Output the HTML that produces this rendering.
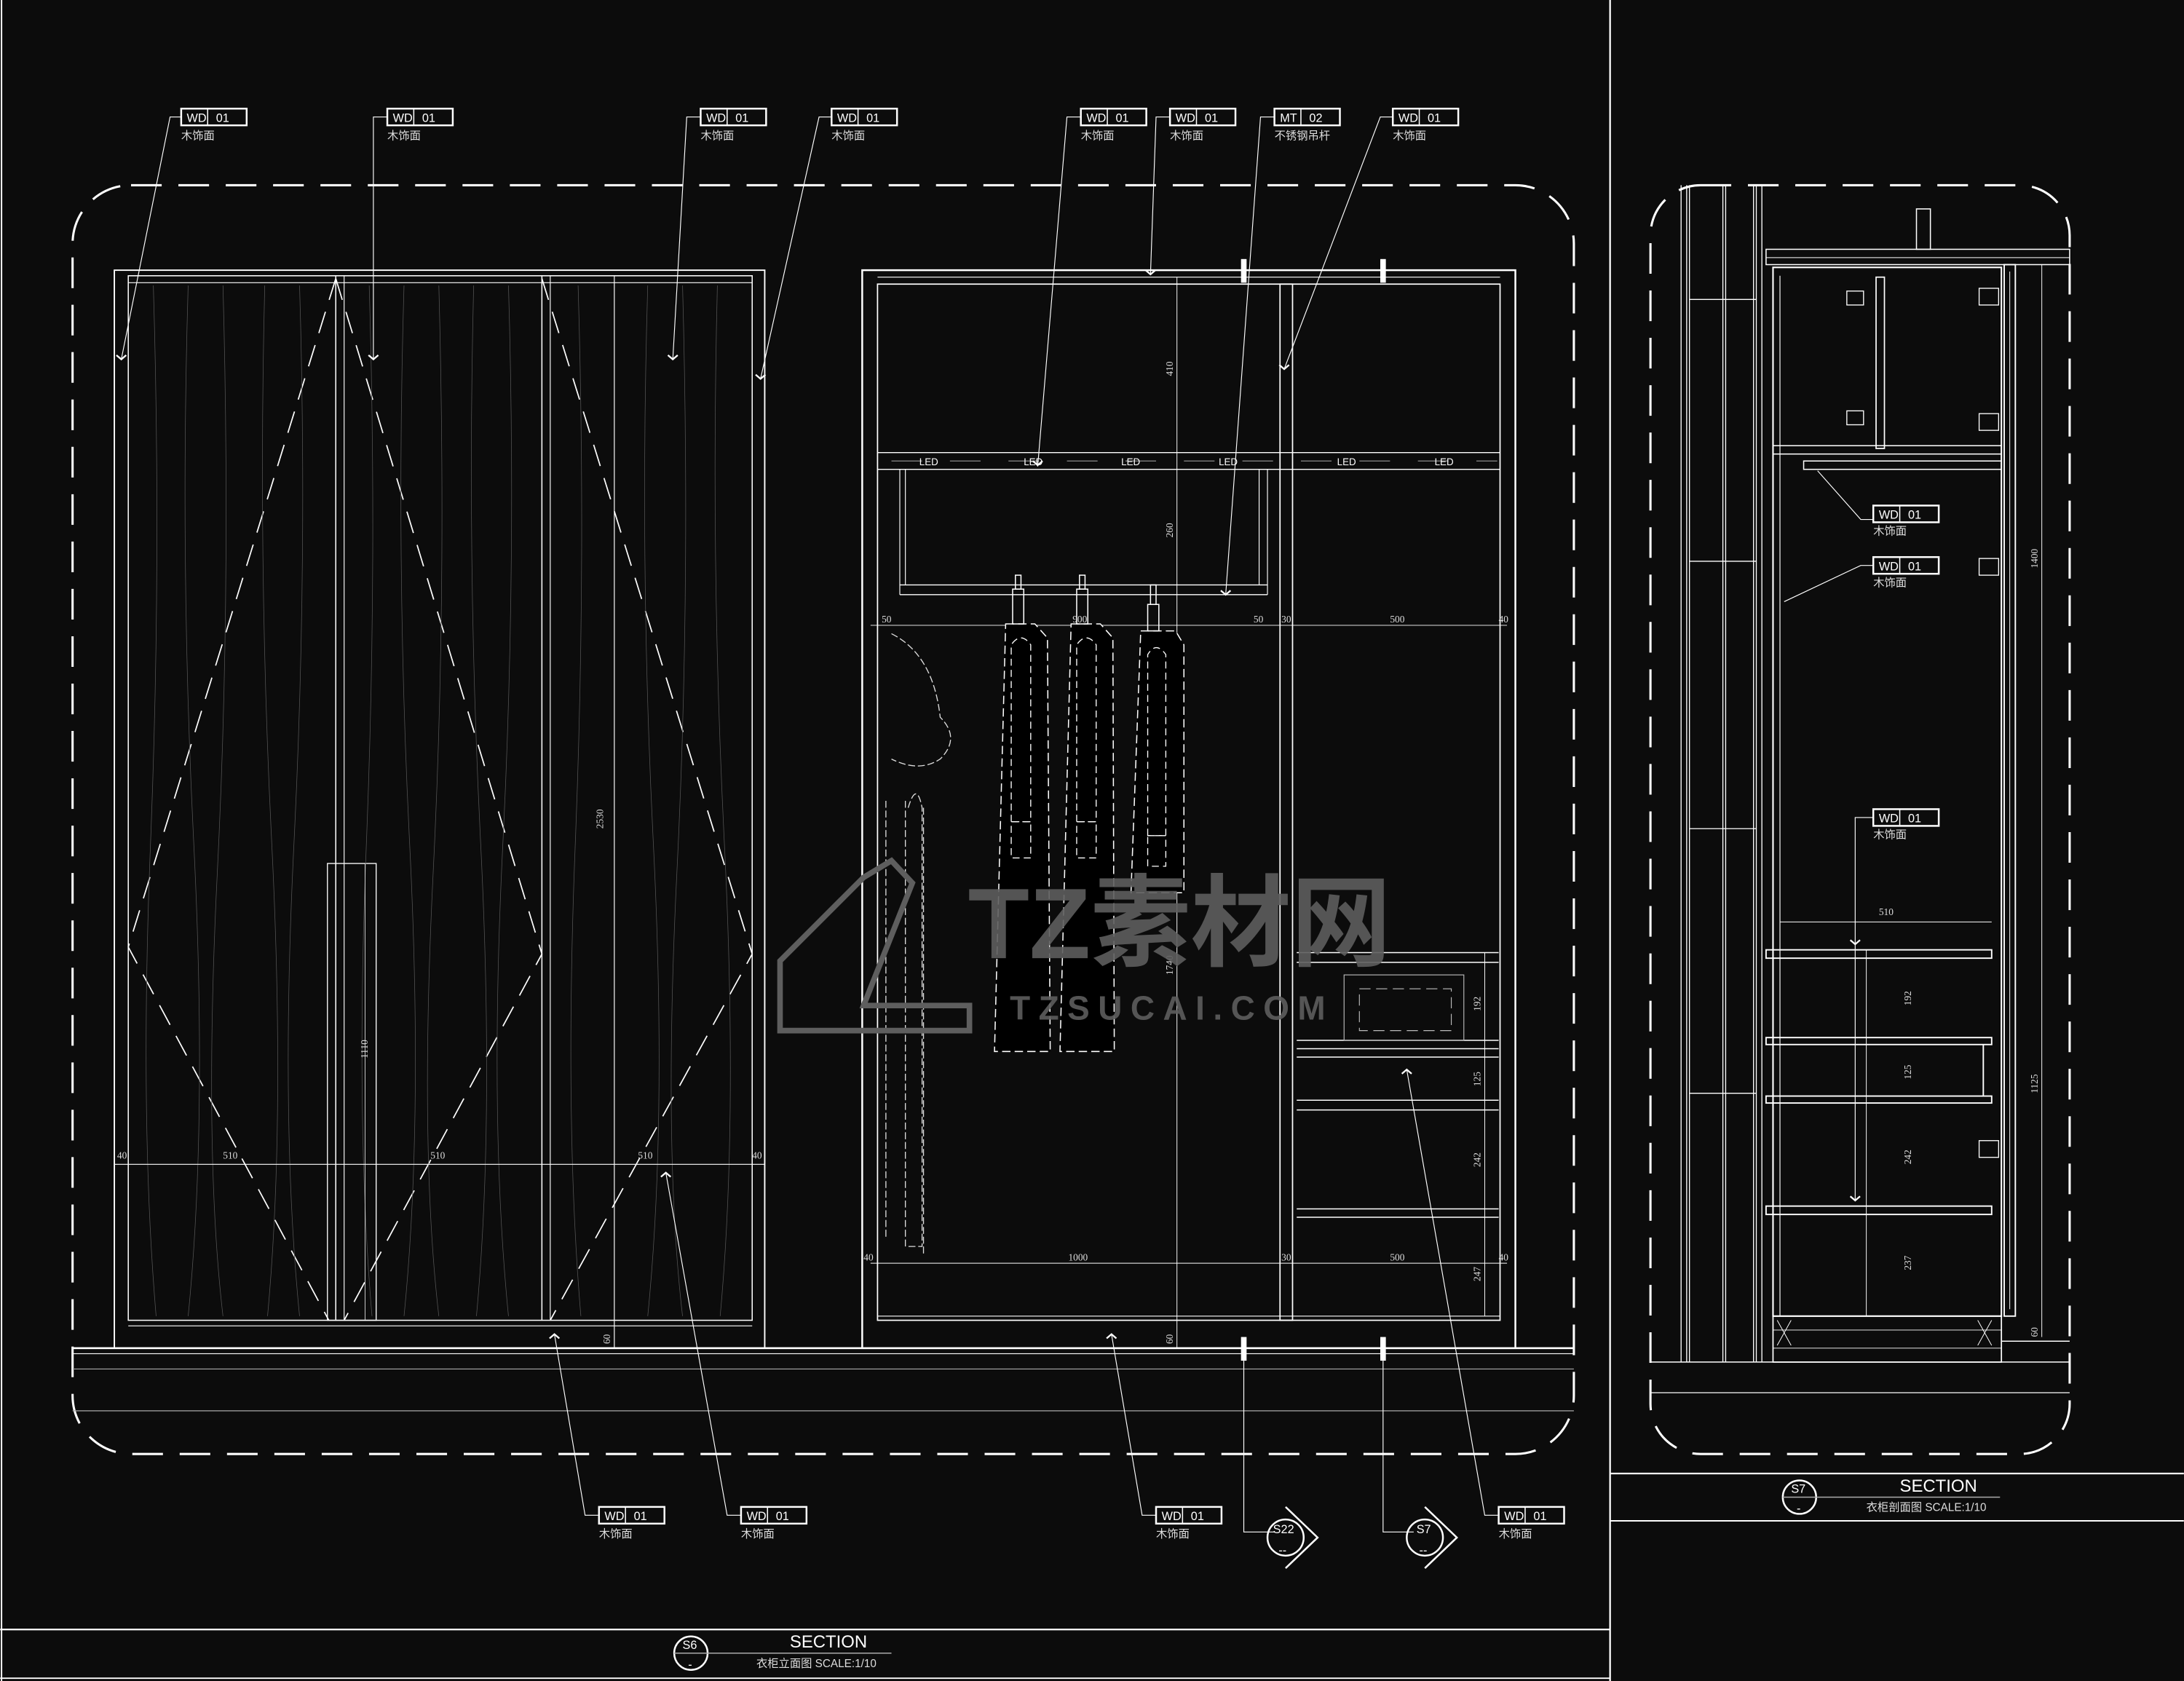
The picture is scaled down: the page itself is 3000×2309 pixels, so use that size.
<!DOCTYPE html>
<html><head><meta charset="utf-8"><style>
html,body{margin:0;padding:0;background:#0c0c0c;}
svg{display:block}
text{font-family:"Liberation Sans","Noto Sans CJK SC",sans-serif;fill:#fff}
.t{font-family:"Liberation Serif","Noto Sans CJK SC",serif;fill:#ddd;font-size:7px}
</style></head><body>
<svg width="3000" height="2309" viewBox="0 0 1568 1207" xmlns="http://www.w3.org/2000/svg">
<defs>
<g id="tag"><rect x="0" y="0" width="47" height="12" fill="none" stroke="#fff" stroke-width="1.3"/><line x1="19" y1="0" x2="19" y2="12" stroke="#fff" stroke-width="0.8"/></g>
<g id="chev"><polyline points="-3.5,-3 0,0 3.5,-3" fill="none" stroke="#fff" stroke-width="1.2"/></g>
</defs>
<rect width="1568" height="1207" fill="#0c0c0c"/>
<g stroke="#fff" fill="none">
<!-- frame -->
<line x1="1" y1="0" x2="1" y2="1207" stroke-width="1"/>
<line x1="1156" y1="0" x2="1156" y2="1207" stroke-width="1.2"/>
<line x1="0" y1="1170" x2="1156" y2="1170" stroke-width="1.2"/>
<line x1="0" y1="1205" x2="1156" y2="1205" stroke-width="1"/>
<line x1="1156" y1="1058" x2="1568" y2="1058" stroke-width="1.2"/>
<line x1="1156" y1="1092" x2="1568" y2="1092" stroke-width="1"/>
<!-- dashed boundaries -->
<rect x="52" y="133" width="1078" height="911" rx="42" stroke-width="1.6" stroke-dasharray="22,12"/>
<rect x="1185" y="133" width="301" height="911" rx="36" stroke-width="1.6" stroke-dasharray="22,12"/>
<!-- floor -->
<line x1="52" y1="968" x2="1130" y2="968" stroke-width="1.4"/>
<line x1="52" y1="972" x2="1130" y2="972" stroke-width="0.6"/>
<line x1="52" y1="983" x2="1130" y2="983" stroke-width="0.6" stroke="#aaa"/>
<line x1="52" y1="1013" x2="1130" y2="1013" stroke-width="0.6" stroke="#aaa"/>

<!-- LEFT WARDROBE -->
<rect x="82" y="194" width="467" height="774" stroke-width="1"/>
<rect x="92" y="198" width="448" height="750" stroke-width="0.8"/>
<line x1="92" y1="203" x2="540" y2="203" stroke-width="0.6"/>
<line x1="92" y1="952" x2="540" y2="952" stroke-width="0.6"/>
<line x1="241" y1="198" x2="241" y2="948" stroke-width="0.8"/>
<line x1="247" y1="198" x2="247" y2="948" stroke-width="0.6"/>
<line x1="389" y1="198" x2="389" y2="948" stroke-width="0.8"/>
<line x1="395" y1="198" x2="395" y2="948" stroke-width="0.6"/>
<line x1="441" y1="198" x2="441" y2="968" stroke-width="0.5"/>
<rect x="235" y="620" width="35" height="328" stroke-width="0.7"/>
<g stroke-width="0.9" stroke-dasharray="16,9">
<polyline points="241,200 92,680 236,948"/>
<polyline points="241,200 389,685 247,948"/>
<polyline points="389,200 540,685 395,948"/>
</g>
<g stroke="#555" stroke-width="0.4">
<path d="M110,205 q6,200 -2,400 t4,340"/><path d="M135,205 q-6,200 4,400 t-4,340"/><path d="M160,205 q6,220 -4,420 t4,320"/><path d="M190,205 q-5,200 5,400 t-3,340"/><path d="M215,205 q6,200 -4,400 t4,340"/>
<path d="M265,205 q6,200 -2,400 t4,340"/><path d="M290,205 q-6,200 4,400 t-4,340"/><path d="M315,205 q6,220 -4,420 t4,320"/><path d="M340,205 q-5,200 5,400 t-3,340"/><path d="M365,205 q6,200 -4,400 t4,340"/>
<path d="M415,205 q6,200 -2,400 t4,340"/><path d="M465,205 q-6,200 4,400 t-4,340"/><path d="M490,205 q6,220 -4,420 t4,320"/><path d="M515,205 q-5,200 5,400 t-3,340"/>
</g>
<line x1="82" y1="836" x2="549" y2="836" stroke-width="0.6"/>
<line x1="441" y1="198" x2="441" y2="968" stroke-width="0.5"/>
<line x1="262" y1="620" x2="262" y2="948" stroke-width="0.4"/>

<!-- MIDDLE WARDROBE -->
<rect x="619" y="194" width="469" height="774" stroke-width="1.3"/>
<rect x="630" y="204" width="447" height="744" stroke-width="0.9"/>
<line x1="630" y1="199" x2="1077" y2="199" stroke-width="0.6"/>
<rect x="919" y="204" width="9" height="744" stroke-width="0.9"/>
<line x1="630" y1="325" x2="1077" y2="325" stroke-width="0.7"/>
<line x1="630" y1="337" x2="1077" y2="337" stroke-width="0.7"/>
<line x1="646" y1="337" x2="646" y2="427" stroke-width="0.6"/>
<line x1="650" y1="337" x2="650" y2="420" stroke-width="0.6"/>
<line x1="904" y1="337" x2="904" y2="420" stroke-width="0.6"/>
<line x1="910" y1="337" x2="910" y2="427" stroke-width="0.6"/>
<line x1="646" y1="420" x2="910" y2="420" stroke-width="0.7"/>
<line x1="646" y1="427" x2="910" y2="427" stroke-width="0.7"/>
<line x1="625" y1="449" x2="1082" y2="449" stroke-width="0.5"/>
<line x1="625" y1="907" x2="1082" y2="907" stroke-width="0.5"/>
<line x1="845" y1="199" x2="845" y2="968" stroke-width="0.5"/>
<line x1="630" y1="945" x2="1077" y2="945" stroke-width="0.6"/>
<!-- drawers -->
<g stroke-width="0.8">
<line x1="931" y1="684" x2="1076" y2="684"/><line x1="931" y1="691" x2="1076" y2="691"/>
<line x1="931" y1="747" x2="1076" y2="747"/><line x1="931" y1="753" x2="1076" y2="753"/><line x1="931" y1="759" x2="1076" y2="759"/>
<line x1="931" y1="790" x2="1076" y2="790"/><line x1="931" y1="797" x2="1076" y2="797"/>
<line x1="931" y1="868" x2="1076" y2="868"/><line x1="931" y1="874" x2="1076" y2="874"/>
<line x1="1066" y1="684" x2="1066" y2="945" stroke-width="0.5"/>
</g>
<rect x="965" y="700" width="86" height="47" stroke-width="0.6" stroke="#bbb"/>
<rect x="976" y="710" width="66" height="30" stroke-width="0.6" stroke="#bbb" stroke-dasharray="8,4"/>
<!-- LED dashes -->
<line x1="640" y1="331" x2="1075" y2="331" stroke="#999" stroke-width="0.6" stroke-dasharray="22,20"/>
<!-- floor markers -->
<rect x="891" y="186" width="4" height="17" fill="#fff" stroke="none"/>
<rect x="991" y="186" width="4" height="17" fill="#fff" stroke="none"/>
<rect x="891" y="960" width="4" height="17" fill="#fff" stroke="none"/>
<rect x="991" y="960" width="4" height="17" fill="#fff" stroke="none"/>
<!-- left accessory -->
<g stroke-width="0.7" stroke="#ddd" stroke-dasharray="5,2">
<path d="M640,455 q30,15 35,60 q15,15 0,30 q-15,10 -35,0"/>
<line x1="636" y1="575" x2="636" y2="890"/><line x1="650" y1="575" x2="650" y2="895"/>
<path d="M652,580 q6,-20 10,0 v315 h-10"/>
<line x1="663" y1="580" x2="663" y2="900"/>
</g>
<!-- garments -->
<g stroke-width="0.8" stroke-dasharray="6,3" fill="#000">
<path d="M722,448 H743 L752,458 L754,755 L714,755 Z"/>
<path d="M769,448 H790 L799,458 L800,755 L761,755 Z"/>
<path d="M819,453 H844 L850,463 L850,641 L812,641 Z"/>
</g>
<g stroke-width="0.7" stroke-dasharray="5,3">
<path d="M726,590 V463 q7,-10 14,0 V590 Z"/><rect x="726" y="590" width="14" height="26"/>
<path d="M773,590 V463 q7,-10 14,0 V590 Z"/><rect x="773" y="590" width="14" height="26"/>
<path d="M824,600 V470 q6,-10 13,0 V600 Z"/><rect x="824" y="600" width="13" height="22"/>
</g>
<g stroke-width="0.8"><rect x="729" y="413" width="4" height="10"/><rect x="727" y="423" width="8" height="25"/>
<rect x="775" y="413" width="4" height="10"/><rect x="773" y="423" width="8" height="25"/>
<rect x="826" y="420" width="4" height="14"/><rect x="824" y="434" width="8" height="19"/></g>

<!-- RIGHT SECTION -->
<g stroke-width="0.7">
<line x1="1207" y1="133" x2="1207" y2="978"/><line x1="1211" y1="133" x2="1211" y2="978"/>
<line x1="1213" y1="133" x2="1213" y2="978"/><line x1="1237" y1="133" x2="1237" y2="978"/>
<line x1="1239" y1="133" x2="1239" y2="978"/><line x1="1259" y1="133" x2="1259" y2="978"/>
<line x1="1261" y1="133" x2="1261" y2="978"/><line x1="1265" y1="133" x2="1265" y2="978"/>
<line x1="1213" y1="215" x2="1261" y2="215"/><line x1="1213" y1="403" x2="1261" y2="403"/>
<line x1="1213" y1="595" x2="1261" y2="595"/><line x1="1213" y1="785" x2="1261" y2="785"/>
</g>
<rect x="1268" y="179" width="218" height="11" stroke-width="0.8"/>
<line x1="1268" y1="185" x2="1486" y2="185" stroke-width="0.5"/>
<rect x="1376" y="150" width="10" height="29" stroke-width="0.8"/>
<rect x="1273" y="192" width="164" height="753" stroke-width="1.1"/>
<line x1="1278" y1="198" x2="1278" y2="945" stroke-width="0.6"/>
<rect x="1347" y="199" width="6" height="123" stroke-width="0.9"/>
<rect x="1273" y="320" width="164" height="6" stroke-width="0.8"/>
<rect x="1295" y="331" width="142" height="6" stroke-width="0.8"/>
<rect x="1439" y="190" width="8" height="755" stroke-width="1"/>
<line x1="1443" y1="195" x2="1443" y2="940" stroke-width="0.5"/>
<line x1="1466" y1="190" x2="1466" y2="960" stroke-width="0.5"/>
<g stroke-width="1">
<rect x="1268" y="682" width="162" height="6"/>
<rect x="1268" y="745" width="162" height="5"/>
<rect x="1268" y="787" width="162" height="5"/>
<rect x="1268" y="866" width="162" height="6"/>
<line x1="1424" y1="750" x2="1424" y2="787"/>
</g>
<line x1="1340" y1="682" x2="1340" y2="945" stroke-width="0.5"/>
<line x1="1278" y1="662" x2="1430" y2="662" stroke-width="0.5"/>
<rect x="1273" y="945" width="164" height="33" stroke-width="0.9"/>
<line x1="1273" y1="955" x2="1437" y2="955" stroke-width="0.5"/>
<line x1="1273" y1="968" x2="1437" y2="968" stroke-width="0.5"/>
<path d="M1276,948 l10,18 M1286,948 l-10,18 M1420,948 l10,18 M1430,948 l-10,18" stroke-width="0.5"/>
<line x1="1437" y1="963" x2="1486" y2="963" stroke-width="0.8"/>
<line x1="1185" y1="978" x2="1486" y2="978" stroke-width="0.8"/>
<line x1="1185" y1="1000" x2="1486" y2="1000" stroke-width="0.6"/>
<g stroke-width="0.7">
<rect x="1326" y="209" width="12" height="10"/><rect x="1326" y="295" width="12" height="10"/>
<rect x="1421" y="207" width="14" height="12"/><rect x="1421" y="297" width="14" height="12"/>
<rect x="1421" y="401" width="14" height="12"/><rect x="1421" y="819" width="14" height="12"/>
</g>
</g>

<!-- dimension text -->
<g class="t">
<text x="84" y="832" class="t">40</text><text x="160" y="832" class="t">510</text><text x="309" y="832" class="t">510</text><text x="458" y="832" class="t">510</text><text x="540" y="832" class="t">40</text>
<text x="433" y="595" transform="rotate(-90 433 595)" class="t">2530</text>
<text x="264" y="760" transform="rotate(-90 264 760)" class="t">1110</text>
<text x="438" y="965" transform="rotate(-90 438 965)" class="t">60</text>
<text x="633" y="447" class="t">50</text><text x="770" y="447" class="t">900</text><text x="900" y="447" class="t">50</text><text x="920" y="447" class="t">30</text><text x="998" y="447" class="t">500</text><text x="1076" y="447" class="t">40</text>
<text x="620" y="905" class="t">40</text><text x="767" y="905" class="t">1000</text><text x="920" y="905" class="t">30</text><text x="998" y="905" class="t">500</text><text x="1076" y="905" class="t">40</text>
<text x="842" y="270" transform="rotate(-90 842 270)" class="t">410</text>
<text x="842" y="386" transform="rotate(-90 842 386)" class="t">260</text>
<text x="842" y="700" transform="rotate(-90 842 700)" class="t">1740</text>
<text x="842" y="965" transform="rotate(-90 842 965)" class="t">60</text>
<text x="1063" y="726" transform="rotate(-90 1063 726)" class="t">192</text>
<text x="1063" y="780" transform="rotate(-90 1063 780)" class="t">125</text>
<text x="1063" y="838" transform="rotate(-90 1063 838)" class="t">242</text>
<text x="1063" y="920" transform="rotate(-90 1063 920)" class="t">247</text>
<text x="1349" y="657" class="t">510</text>
<text x="1372" y="722" transform="rotate(-90 1372 722)" class="t">192</text>
<text x="1372" y="775" transform="rotate(-90 1372 775)" class="t">125</text>
<text x="1372" y="836" transform="rotate(-90 1372 836)" class="t">242</text>
<text x="1372" y="912" transform="rotate(-90 1372 912)" class="t">237</text>
<text x="1463" y="408" transform="rotate(-90 1463 408)" class="t">1400</text>
<text x="1463" y="785" transform="rotate(-90 1463 785)" class="t">1125</text>
<text x="1463" y="960" transform="rotate(-90 1463 960)" class="t">60</text>
</g>
<g fill="#888" font-size="7" font-family="Liberation Sans">
<text x="660" y="334" fill="#999">LED</text><text x="735" y="334" fill="#999">LED</text><text x="805" y="334" fill="#999">LED</text><text x="875" y="334" fill="#999">LED</text><text x="960" y="334" fill="#999">LED</text><text x="1030" y="334" fill="#999">LED</text>
</g>

<!-- watermark -->
<g fill="#5e5e5e" stroke="none" opacity="0.9">
<text x="695" y="688" font-size="72" font-weight="bold" style="fill:#5e5e5e;font-family:'Liberation Sans','Noto Sans CJK SC',sans-serif">TZ素材网</text>
<text x="725" y="732" font-size="24" font-weight="bold" letter-spacing="6" style="fill:#5e5e5e">TZSUCAI.COM</text>
</g>
<g stroke="#5e5e5e" stroke-width="4" fill="none"><path d="M560,690 l60,-60 l20,-12 l15,16 l-35,88 h76 v18 h-136 z"/></g>

<!-- leaders -->
<g stroke="#fff" stroke-width="0.6" fill="none">
<polyline points="130,84 122,84 87,258"/><polyline points="278,84 268,84 268,258"/>
<polyline points="503,84 493,84 483,258"/><polyline points="597,84 588,84 546,272"/>
<polyline points="776,84 766,84 745,335"/><polyline points="840,84 830,84 826,197"/>
<polyline points="915,84 905,84 880,427"/><polyline points="1000,84 991,84 922,265"/>
<polyline points="430,1088 420,1088 398,958"/><polyline points="532,1088 522,1088 478,842"/>
<polyline points="830,1088 820,1088 798,958"/><polyline points="1076,1088 1066,1088 1010,768"/>
<polyline points="1345,373 1336,373 1305,338"/><polyline points="1345,406 1336,406 1281,432"/>
<polyline points="1345,587 1332,587 1332,862"/>
<polyline points="893,968 893,1100 915,1100"/><polyline points="993,968 993,1100 1015,1100"/>
</g>
<use href="#chev" x="87" y="258"/><use href="#chev" x="268" y="258"/><use href="#chev" x="483" y="258"/><use href="#chev" x="546" y="272"/>
<use href="#chev" x="745" y="334"/><use href="#chev" x="826" y="197"/><use href="#chev" x="880" y="427"/><use href="#chev" x="922" y="265"/>
<use href="#chev" x="398" y="958" transform="rotate(180 398 958)"/><use href="#chev" x="478" y="842" transform="rotate(180 478 842)"/>
<use href="#chev" x="798" y="958" transform="rotate(180 798 958)"/><use href="#chev" x="1010" y="768" transform="rotate(180 1010 768)"/>
<use href="#chev" x="1332" y="678"/><use href="#chev" x="1332" y="862"/>

<!-- tags -->
<g font-size="8.5" font-family="Liberation Sans">
<g transform="translate(130,78)"><use href="#tag"/><text x="4" y="9.5">WD</text><text x="25" y="9.5">01</text><text x="0" y="22" font-size="8" style="fill:#ddd">木饰面</text></g>
<g transform="translate(278,78)"><use href="#tag"/><text x="4" y="9.5">WD</text><text x="25" y="9.5">01</text><text x="0" y="22" font-size="8" style="fill:#ddd">木饰面</text></g>
<g transform="translate(503,78)"><use href="#tag"/><text x="4" y="9.5">WD</text><text x="25" y="9.5">01</text><text x="0" y="22" font-size="8" style="fill:#ddd">木饰面</text></g>
<g transform="translate(597,78)"><use href="#tag"/><text x="4" y="9.5">WD</text><text x="25" y="9.5">01</text><text x="0" y="22" font-size="8" style="fill:#ddd">木饰面</text></g>
<g transform="translate(776,78)"><use href="#tag"/><text x="4" y="9.5">WD</text><text x="25" y="9.5">01</text><text x="0" y="22" font-size="8" style="fill:#ddd">木饰面</text></g>
<g transform="translate(840,78)"><use href="#tag"/><text x="4" y="9.5">WD</text><text x="25" y="9.5">01</text><text x="0" y="22" font-size="8" style="fill:#ddd">木饰面</text></g>
<g transform="translate(915,78)"><use href="#tag"/><text x="4" y="9.5">MT</text><text x="25" y="9.5">02</text><text x="0" y="22" font-size="8" style="fill:#ddd">不锈钢吊杆</text></g>
<g transform="translate(1000,78)"><use href="#tag"/><text x="4" y="9.5">WD</text><text x="25" y="9.5">01</text><text x="0" y="22" font-size="8" style="fill:#ddd">木饰面</text></g>
<g transform="translate(430,1082)"><use href="#tag"/><text x="4" y="9.5">WD</text><text x="25" y="9.5">01</text><text x="0" y="22" font-size="8" style="fill:#ddd">木饰面</text></g>
<g transform="translate(532,1082)"><use href="#tag"/><text x="4" y="9.5">WD</text><text x="25" y="9.5">01</text><text x="0" y="22" font-size="8" style="fill:#ddd">木饰面</text></g>
<g transform="translate(830,1082)"><use href="#tag"/><text x="4" y="9.5">WD</text><text x="25" y="9.5">01</text><text x="0" y="22" font-size="8" style="fill:#ddd">木饰面</text></g>
<g transform="translate(1076,1082)"><use href="#tag"/><text x="4" y="9.5">WD</text><text x="25" y="9.5">01</text><text x="0" y="22" font-size="8" style="fill:#ddd">木饰面</text></g>
<g transform="translate(1345,363)"><use href="#tag"/><text x="4" y="9.5">WD</text><text x="25" y="9.5">01</text><text x="0" y="21" font-size="8" style="fill:#ddd">木饰面</text></g>
<g transform="translate(1345,400)"><use href="#tag"/><text x="4" y="9.5">WD</text><text x="25" y="9.5">01</text><text x="0" y="21" font-size="8" style="fill:#ddd">木饰面</text></g>
<g transform="translate(1345,581)"><use href="#tag"/><text x="4" y="9.5">WD</text><text x="25" y="9.5">01</text><text x="0" y="21" font-size="8" style="fill:#ddd">木饰面</text></g>
</g>

<!-- section markers -->
<g stroke="#fff" stroke-width="1.3" fill="none">
<circle cx="923" cy="1104" r="13"/><path d="M923,1082 L946,1104 L923,1126"/>
<circle cx="1023" cy="1104" r="13"/><path d="M1023,1082 L1046,1104 L1023,1126"/>
<circle cx="496" cy="1187" r="12"/><line x1="484" y1="1187" x2="640" y2="1187" stroke-width="0.8" stroke="#aaa"/>
<circle cx="1292" cy="1075" r="12"/><line x1="1280" y1="1075" x2="1436" y2="1075" stroke-width="0.8" stroke="#aaa"/>
</g>
<g font-size="8.5">
<text x="914" y="1101">S22</text><text x="918" y="1116">--</text>
<text x="1017" y="1101">S7</text><text x="1019" y="1116">--</text>
<text x="490" y="1184">S6</text><text x="494" y="1198">-</text>
<text x="1286" y="1072">S7</text><text x="1290" y="1086">-</text>
</g>
<text x="567" y="1183" font-size="12.5">SECTION</text>
<text x="543" y="1197" font-size="8" style="fill:#ddd">衣柜立面图 SCALE:1/10</text>
<text x="1364" y="1071" font-size="12.5">SECTION</text>
<text x="1340" y="1085" font-size="8" style="fill:#ddd">衣柜剖面图 SCALE:1/10</text>
</svg>
</body></html>
